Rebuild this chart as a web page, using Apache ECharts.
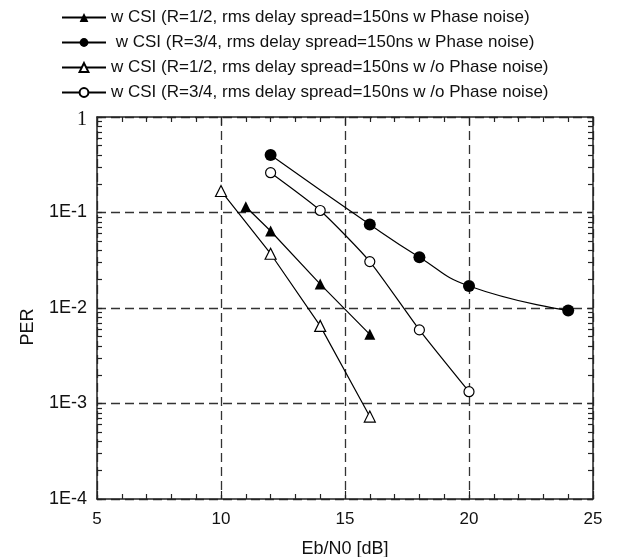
<!DOCTYPE html>
<html>
<head>
<meta charset="utf-8">
<script src="https://cdn.jsdelivr.net/npm/echarts@6/dist/echarts.min.js"></script>
<style>
  html, body { margin: 0; padding: 0; background: #fff; }
  #main { width: 620px; height: 557px; }
</style>
</head>
<body>
<div id="main"></div>
<script>
// data
var seriesNames = [
  'w CSI (R=1/2, rms delay spread=150ns w Phase noise)',
  ' w CSI (R=3/4, rms delay spread=150ns w Phase noise)',
  'w CSI (R=1/2, rms delay spread=150ns w /o Phase noise)',
  'w CSI (R=3/4, rms delay spread=150ns w /o Phase noise)'
];
var xHalfPN = [11, 12, 14, 16];
var yHalfPN = [0.115, 0.064, 0.0178, 0.0053];
var xQuarterPN = [12, 16, 18, 20, 24];
var yQuarterPN = [0.40, 0.075, 0.034, 0.017, 0.0094];
var xHalfNoPN = [10, 12, 14, 16];
var yHalfNoPN = [0.168, 0.037, 0.0065, 0.00073];
var xQuarterNoPN = [12, 14, 16, 18, 20];
var yQuarterNoPN = [0.261, 0.105, 0.0306, 0.0059, 0.00133];
var xTicks = [5, 10, 15, 20, 25];
var yDecades = [1e-4, 1e-3, 1e-2, 1e-1, 1];

var font = 'Liberation Sans';

function pairs(xs, ys) {
  return xs.map(function (x, i) { return [x, ys[i]]; });
}

// minor ticks of the log axis: 2..9 in every decade
var yMinor = [];
for (var d = 0; d < yDecades.length - 1; d++) {
  for (var m = 2; m <= 9; m++) {
    yMinor.push(+(yDecades[d] * m).toPrecision(3));
  }
}
var yAllTicks = yDecades.concat(yMinor);

var myChart = echarts.init(document.getElementById('main'));

var tickStyle = { color: '#222', width: 1.2 };
var frameStyle = { color: '#222', width: 1.5 };
var gridStyle = { color: '#333', width: 1.3, type: [9, 5] };

var yBase = {
  type: 'log',
  logBase: 10,
  min: yDecades[0],
  max: yDecades[yDecades.length - 1],
  axisLine: { show: true, onZero: false, lineStyle: frameStyle },
  axisTick: { show: true, inside: true, length: 5, lineStyle: tickStyle },
  axisLabel: { show: false },
  splitLine: { show: false },
  minorTick: { show: false }
};

var xBase = {
  type: 'value',
  min: xTicks[0],
  max: xTicks[xTicks.length - 1],
  interval: 5,
  axisLine: { show: true, onZero: false, lineStyle: frameStyle },
  axisTick: { show: true, inside: true, length: 8, lineStyle: tickStyle },
  minorTick: { show: true, splitNumber: 5, length: 5, lineStyle: tickStyle }
};

var option = {
  backgroundColor: '#fff',
  animation: false,
  textStyle: { fontFamily: font },
  legend: {
    orient: 'vertical',
    left: 56,
    top: 4,
    itemWidth: 44,
    itemHeight: 11,
    itemGap: 8,
    data: seriesNames,
    textStyle: { fontFamily: font, fontSize: 17, color: '#111' }
  },
  grid: {
    left: 97, right: 27, top: 117, bottom: 58,
    containLabel: false,
    outerBoundsMode: 'none'
  },
  xAxis: [
    Object.assign({}, xBase, {
      position: 'bottom',
      name: 'Eb/N0 [dB]',
      nameLocation: 'middle',
      nameGap: 41,
      nameTextStyle: { fontFamily: font, fontSize: 18, color: '#111' },
      axisLabel: { fontFamily: font, fontSize: 17, color: '#111', margin: 12 },
      splitLine: { show: true, lineStyle: gridStyle }
    }),
    Object.assign({}, xBase, {
      position: 'top',
      axisLabel: { show: false },
      splitLine: { show: false }
    })
  ],
  yAxis: [
    // main left axis: labels, decade ticks and dashed grid
    Object.assign({}, yBase, {
      position: 'left',
      name: 'PER',
      nameLocation: 'middle',
      nameGap: 60,
      nameTextStyle: { fontFamily: font, fontSize: 18, color: '#111', padding: [0, 0, 0, -38] },
      axisLabel: {
        show: true,
        fontFamily: font,
        fontSize: 18,
        color: '#111',
        margin: 10,
        formatter: function (v) {
          if (v >= 1) return '{one|1}';
          return '1E' + Math.round(Math.log10(v));
        },
        rich: { one: { fontFamily: 'Liberation Serif', fontSize: 20, color: '#111', padding: [6, 0, 0, 0] } }
      },
      splitLine: { show: true, lineStyle: gridStyle }
    }),
    // left minor ticks
    Object.assign({}, yBase, {
      position: 'left',
      axisLine: { show: false },
      axisTick: { show: true, inside: true, length: 5, customValues: yMinor, lineStyle: tickStyle }
    }),
    // right frame with all ticks
    Object.assign({}, yBase, {
      position: 'right',
      axisTick: { show: true, inside: true, length: 5, customValues: yAllTicks, lineStyle: tickStyle }
    })
  ],
  series: [
    {
      name: seriesNames[0],
      type: 'line',
      data: pairs(xHalfPN, yHalfPN),
      symbol: 'triangle',
      symbolSize: 11,
      color: '#000',
      lineStyle: { color: '#000', width: 1.2 },
      itemStyle: { color: '#000' }
    },
    {
      name: seriesNames[1],
      type: 'line',
      data: pairs(xQuarterPN, yQuarterPN),
      symbol: 'circle',
      symbolSize: 12,
      smooth: 0.5,
      color: '#000',
      lineStyle: { color: '#000', width: 1.2 },
      itemStyle: { color: '#000' }
    },
    {
      name: seriesNames[2],
      type: 'line',
      data: pairs(xHalfNoPN, yHalfNoPN),
      symbol: 'triangle',
      symbolSize: 11,
      color: '#000',
      lineStyle: { color: '#000', width: 1.2 },
      itemStyle: { color: '#fff', borderColor: '#000', borderWidth: 1.2 }
    },
    {
      name: seriesNames[3],
      type: 'line',
      data: pairs(xQuarterNoPN, yQuarterNoPN),
      symbol: 'circle',
      symbolSize: 10,
      smooth: 0.2,
      color: '#000',
      lineStyle: { color: '#000', width: 1.2 },
      itemStyle: { color: '#fff', borderColor: '#000', borderWidth: 1.2 }
    }
  ]
};

myChart.setOption(option);
</script>
</body>
</html>
